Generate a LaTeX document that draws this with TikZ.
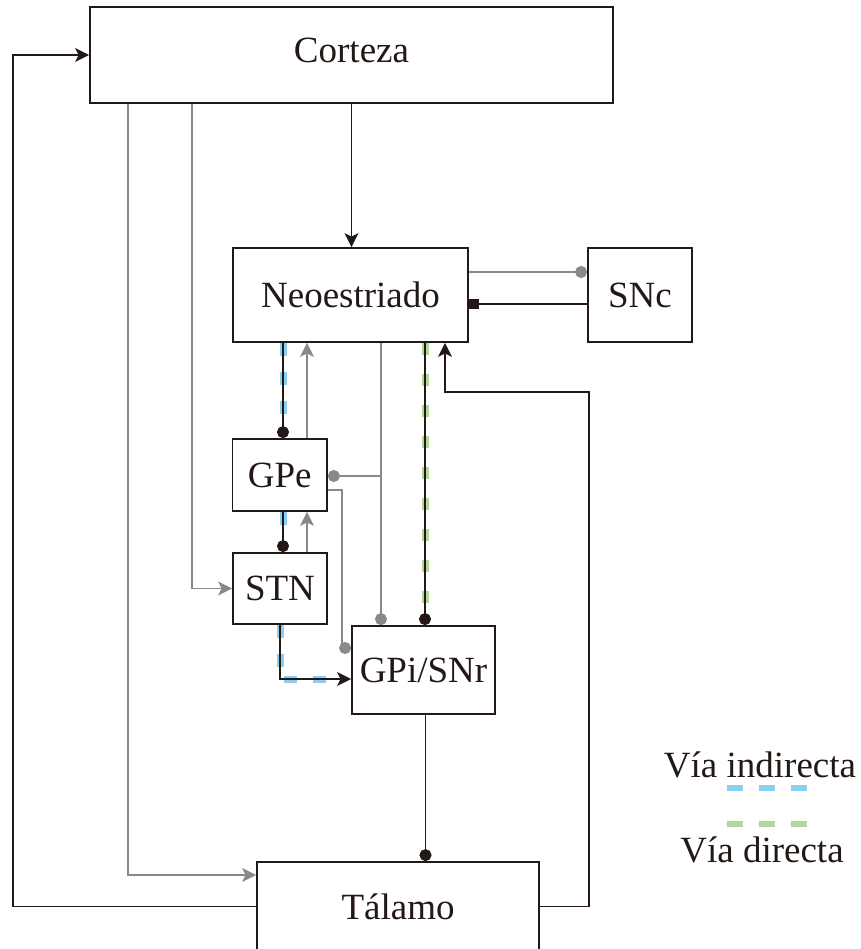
\documentclass[tikz,border=0pt]{standalone}
\usepackage{fontspec}
\setmainfont{Liberation Serif}
\usetikzlibrary{arrows.meta}
\definecolor{ink}{RGB}{35,24,21}
\definecolor{gry}{RGB}{137,137,140}
\definecolor{blu}{RGB}{140,206,240}
\definecolor{grn}{RGB}{178,214,156}
\begin{document}
\begin{tikzpicture}[x=1pt,y=-1pt,
  box/.style={draw=ink, line width=1.8pt, inner sep=0pt, text=ink, font=\fontsize{37}{40}\selectfont},
  lbl/.style={inner sep=0pt, text=ink, font=\fontsize{37}{40}\selectfont},
  blk/.style={draw=ink, line width=1.7pt},
  gl/.style={draw=gry, line width=1.6pt},
  arr/.style={-{Stealth[length=14pt,width=14pt,inset=3.5pt]}},
  dotk/.style={-{Circle[length=12pt,width=12pt]}},
  dotg/.style={-{Circle[length=12pt,width=12pt]}},
  sqk/.style={-{Square[length=10pt,width=10pt]}},
  bluedash/.style={draw=blu, line width=7pt, dash pattern=on 13pt off 16pt},
  greendash/.style={draw=grn, line width=7pt, dash pattern=on 12pt off 19pt},
]
\useasboundingbox (0,0) rectangle (860,949);
\clip (0,0) rectangle (860,949);

% boxes
\node[box, minimum width=523pt, minimum height=96pt, text depth=10pt] (cor) at (351.5,55) {Corteza};
\node[box, minimum width=235pt, minimum height=94pt] (neo) at (350.5,295) {Neoestriado};
\node[box, minimum width=104pt, minimum height=94pt] (snc) at (640,295) {SNc};
\node[box, minimum width=94.5pt, minimum height=72pt] (gpe) at (279.75,475) {GPe};
\node[box, minimum width=94pt, minimum height=71pt] (stn) at (280,588.5) {STN};
\node[box, minimum width=143pt, minimum height=88pt] (gpi) at (423.5,670) {GPi/SNr};
\node[box, minimum width=282pt, minimum height=89pt] (tal) at (398,906.5) {Tálamo};

% helper coordinates
\coordinate (g1) at ([xshift=-223.5pt]cor.south);
\coordinate (g2) at ([xshift=-159.5pt]cor.south);
\coordinate (n1) at ([xshift=94.5pt]neo.south);
\coordinate (p1) at ([xshift=3.25pt]gpe.north);
\coordinate (p2) at ([xshift=27.25pt]gpe.north);
\coordinate (p3) at ([xshift=-42.5pt]gpi.north);
\coordinate (p4) at ([xshift=1.5pt]gpi.north);
\coordinate (p5) at ([xshift=3pt]stn.north);
\coordinate (p6) at ([xshift=27pt]stn.north);
\coordinate (p8) at ([xshift=2pt]gpi.south);

% Corteza connections
\draw[blk,arr] (cor.south) -- (cor.south |- neo.north);
\draw[gl,arr] (g1) |- ([yshift=31.5pt]tal.west);
\draw[gl,arr] (g2) |- (stn.west);
\draw[blk,arr] (tal.west) -- ++(-243,0) |- (cor.west);
\draw[blk,arr] (tal.east) -- ++(49,0) |- ([yshift=-49pt]n1) -- (n1);

% Neoestriado - SNc
\draw[gl,dotg] ([yshift=23pt]neo.east) -- ([yshift=23pt]neo.east -| snc.west);
\draw[blk,sqk] ([yshift=-9pt]snc.west) -- ([yshift=-9pt]snc.west -| neo.east);

% Neoestriado -> GPe (indirect)
\draw[bluedash] (p1 |- neo.south) -- ([yshift=9pt]p1);
\draw[blk,dotk] (p1 |- neo.south) -- (p1);
\draw[gl,arr] (p2) -- (p2 |- neo.south);

% Neoestriado gray to GPi and GPe
\draw[gl,dotg] (p3 |- neo.south) -- (p3);
\draw[gl,dotg] ([yshift=-1pt]gpe.east -| p3) -- ([yshift=-1pt]gpe.east);

% Neoestriado -> GPi (direct)
\draw[greendash] (p4 |- neo.south) -- ([yshift=13pt]p4);
\draw[blk,dotk] (p4 |- neo.south) -- (p4);

% GPe -> STN
\draw[bluedash] (p5 |- gpe.south) -- ([yshift=9pt]p5);
\draw[blk,dotk] (p5 |- gpe.south) -- (p5);
\draw[gl,arr] (p6) -- (p6 |- gpe.south);

% GPe -> GPi
\draw[gl,dotg] ([yshift=-15pt]gpe.east) -- ++(14,0) |- ([yshift=22pt]gpi.west);

% STN -> GPi
\draw[bluedash] (stn.south) |- ([yshift=-9pt,xshift=-25pt]gpi.west);
\draw[blk,arr] (stn.south) |- ([yshift=-9pt]gpi.west);

% GPi -> Talamo
\draw[blk,dotk] (p8) -- (p8 |- tal.north);

% legend
\node[lbl, anchor=base] (li) at (760,777) {Vía indirecta};
\node[lbl, anchor=base] (ld) at (762,862) {Vía directa};
\draw[draw=blu, line width=6pt, dash pattern=on 16pt off 16pt] (727,788) -- (807,788);
\draw[draw=grn, line width=6pt, dash pattern=on 16pt off 16pt] (727,824) -- (807,824);
\end{tikzpicture}
\end{document}
